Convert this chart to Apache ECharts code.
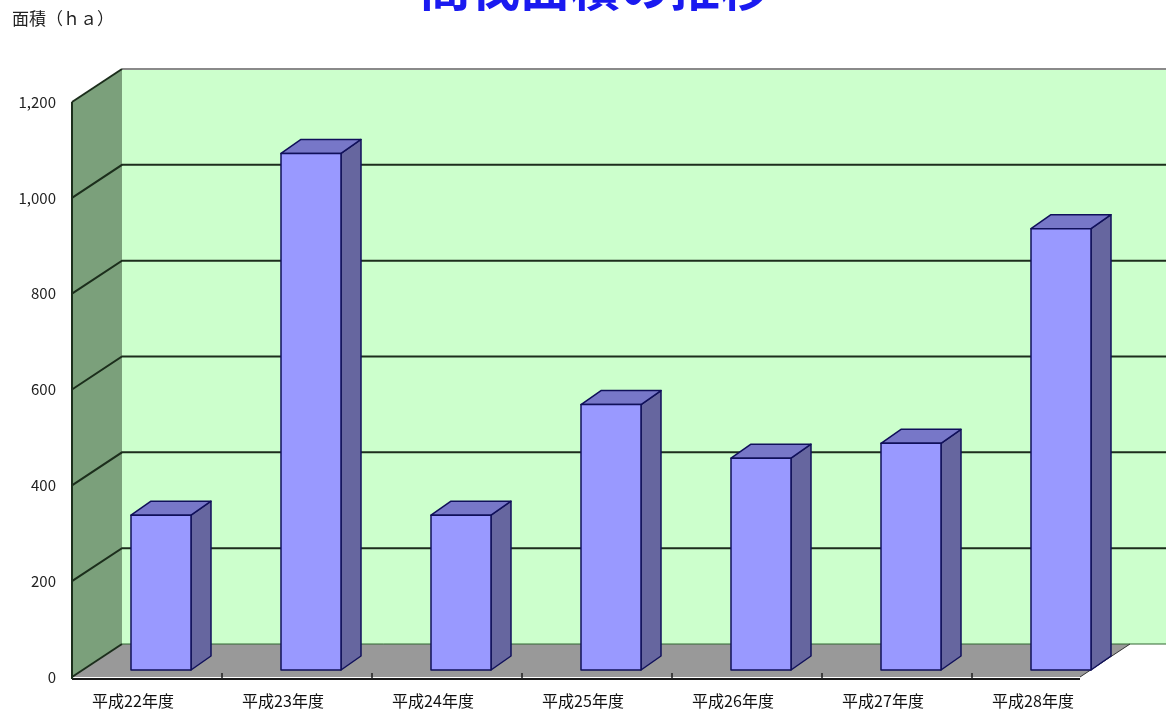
<!DOCTYPE html>
<html><head><meta charset="utf-8">
<script src="https://cdn.jsdelivr.net/npm/echarts@6/dist/echarts.min.js"></script>
<style>html,body{margin:0;padding:0;background:#fff}#c{width:1166px;height:717px}</style>
</head><body><div id="c"></div>
<script>
const categories = ['平成22年度','平成23年度','平成24年度','平成25年度','平成26年度','平成27年度','平成28年度'];
const areaValues = [323, 1078, 323, 554, 442, 473, 921];
const yTicks = [0, 200, 400, 600, 800, 1000, 1200];
const titleText = '間伐面積の推移';
const unitText = '面積（ｈａ）';

const DX = 50, DY = -33;       // wall depth
const BDX = 14, BDY = -7;      // bar position in depth
const SDX = 20, SDY = -14;     // bar thickness
const FONT = '"Noto Sans CJK JP", sans-serif';

function renderWalls(params, api) {
  const cs = params.coordSys;
  const x0 = cs.x, x1 = cs.x + cs.width;
  const yb = api.coord([0, 0])[1];
  const yTop = api.coord([0, yTicks[yTicks.length - 1]])[1];
  const xEnd = x1 - 42;
  const xFar = x1 + DX + 30;
  const ch = [];
  ch.push({type:'polygon', shape:{points:[[x0+DX,yTop+DY],[xFar,yTop+DY],[xFar,yb+DY],[x0+DX,yb+DY]]}, style:{fill:'#ccffcc'}});
  ch.push({type:'polygon', shape:{points:[[x0,yb],[xEnd,yb],[xEnd+DX,yb+DY],[x0+DX,yb+DY]]}, style:{fill:'#999999'}});
  ch.push({type:'polygon', shape:{points:[[x0,yb],[x0,yTop],[x0+DX,yTop+DY],[x0+DX,yb+DY]]}, style:{fill:'#7ba07b'}});
  ch.push({type:'line', shape:{x1:x0+DX,y1:yTop+DY,x2:xFar,y2:yTop+DY}, style:{stroke:'#8a8a8a', lineWidth:2}});
  ch.push({type:'polyline', shape:{points:[[x0,yTop],[x0+DX,yTop+DY]]}, style:{stroke:'#1c2e1c', lineWidth:2, fill:null}});
  yTicks.forEach(v => {
    if (v === 0 || v === yTicks[yTicks.length-1]) return;
    const y = api.coord([0, v])[1];
    ch.push({type:'polyline', shape:{points:[[x0,y],[x0+DX,y+DY],[xFar,y+DY]]}, style:{stroke:'#1c2e1c', lineWidth:2, fill:null}});
  });
  ch.push({type:'line', shape:{x1:x0,y1:yb,x2:x0+DX,y2:yb+DY}, style:{stroke:'#1c2e1c', lineWidth:2}});
  ch.push({type:'line', shape:{x1:x0+DX,y1:yb+DY,x2:xFar,y2:yb+DY}, style:{stroke:'#336633', lineWidth:1}});
  ch.push({type:'line', shape:{x1:xEnd,y1:yb,x2:xEnd+DX,y2:yb+DY}, style:{stroke:'#333', lineWidth:1}});
  ch.push({type:'line', shape:{x1:x0,y1:yb+2,x2:xEnd,y2:yb+2}, style:{stroke:'#1a1a1a', lineWidth:2}});
  ch.push({type:'line', shape:{x1:x0,y1:yTop,x2:x0,y2:yb+2}, style:{stroke:'#1c2e1c', lineWidth:2}});
  for (let i = 1; i < categories.length; i++) {
    const xt = (api.coord([i - 1, 0])[0] + api.coord([i, 0])[0]) / 2;
    ch.push({type:'line', shape:{x1:xt,y1:yb+2,x2:xt,y2:yb-4}, style:{stroke:'#222', lineWidth:1.5}});
  }
  return {type:'group', children: ch};
}

function renderBar(params, api) {
  const idx = api.value(0), val = api.value(1);
  const top = api.coord([idx, val]);
  const base = api.coord([idx, 0]);
  const w = api.size([1, 0])[0] * 0.4;
  const l = top[0] + BDX - w/2, r = top[0] + BDX + w/2;
  const t = top[1] + BDY, b = base[1] + BDY;
  const st = {stroke:'#10105a', lineWidth:1.5, lineJoin:'round'};
  return {type:'group', children:[
    {type:'polygon', shape:{points:[[r,b],[r,t],[r+SDX,t+SDY],[r+SDX,b+SDY]]}, style:Object.assign({fill:'#66669f'}, st)},
    {type:'polygon', shape:{points:[[l,t],[r,t],[r+SDX,t+SDY],[l+SDX,t+SDY]]}, style:Object.assign({fill:'#7777c8'}, st)},
    {type:'rect', shape:{x:l, y:t, width:w, height:b-t}, style:Object.assign({fill:'#9999ff'}, st)}
  ]};
}

const chart = echarts.init(document.getElementById('c'));
chart.setOption({
  animation: false,
  backgroundColor: '#ffffff',
  grid: {left: 72, right: 44, top: 102, bottom: 40},
  graphic: [
    {type:'text', left: 12, top: 10, style:{text: unitText, font: '17px ' + FONT, fill:'#222'}},
    {type:'text', x: 595, y: -38, style:{text: titleText, font: 'bold 50px ' + FONT, fill:'#1a1af0', align:'center', verticalAlign:'top'}}
  ],
  xAxis: {
    type: 'category', data: categories, z: 5,
    axisLine: {show: false},
    axisTick: {show: false},
    axisLabel: {fontFamily: FONT, fontSize: 16, color: '#111', margin: 16, padding: [0, 28, 0, 0]}
  },
  yAxis: {
    type: 'value', min: 0, max: 1200, interval: 200, z: 5,
    axisLine: {show: false}, axisTick: {show: false}, splitLine: {show: false},
    axisLabel: {fontFamily: FONT, fontSize: 15, color: '#222', margin: 16,
      formatter: v => v.toLocaleString('en-US')}
  },
  series: [
    {type:'custom', z: 1, renderItem: renderWalls, data: [[0, 0]], silent: true},
    {type:'custom', z: 2, renderItem: renderBar, data: areaValues.map((v, i) => [i, v])}
  ]
});
</script></body></html>
